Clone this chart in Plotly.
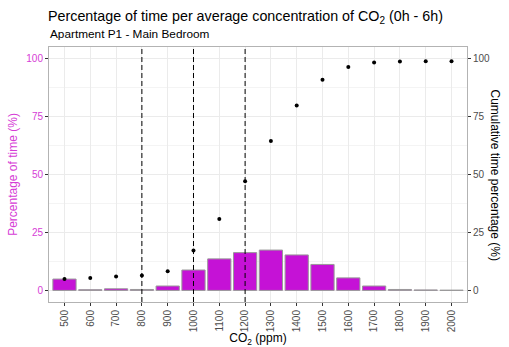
import plotly.graph_objects as go

categories = ["500", "600", "700", "800", "900", "1000", "1100", "1200", "1300",
              "1400", "1500", "1600", "1700", "1800", "1900", "2000"]
pct_time = [4.9, 0.3, 0.7, 0.4, 1.9, 8.8, 13.6, 16.3, 17.4, 15.3, 11.2, 5.4, 1.9, 0.4, 0.2, 0.1]
cum_pct = [4.9, 5.3, 6.0, 6.4, 8.3, 17.2, 30.8, 47.1, 64.5, 79.8, 90.9, 96.4, 98.3, 98.7, 98.9, 98.9]
thresholds = ["800", "1000", "1200"]

magenta = "#C512D6"
label_mag = "#D63DD6"
grey = "#4D4D4D"
font = "Liberation Sans, Arial, sans-serif"

fig = go.Figure()
fig.add_trace(go.Bar(x=categories, y=pct_time, marker=dict(color=magenta, line=dict(color="#999999", width=1)),
                     width=0.9, yaxis="y"))
fig.add_trace(go.Scatter(x=categories, y=cum_pct, mode="markers",
                         marker=dict(color="black", size=4), yaxis="y2"))

for t in thresholds:
    xi = categories.index(t)
    fig.add_shape(type="line", xref="x", yref="paper", x0=xi, x1=xi, y0=0, y1=1,
                  line=dict(color="black", width=1, dash="5px,3px"), layer="above")

fig.update_layout(
    width=509, height=347,
    margin=dict(l=49, r=42, t=47, b=45),
    paper_bgcolor="white", plot_bgcolor="white",
    showlegend=False, bargap=0.1,
    font=dict(family=font, color=grey, size=10),
    title=dict(text="Percentage of time per average concentration of CO<sub>2</sub> (0h - 6h)",
               x=48/509, xanchor="left", y=1-16/347, yanchor="middle",
               font=dict(size=14.3, color="black", family=font)),
    annotations=[
        dict(text="Apartment P1 - Main Bedroom", xref="paper", yref="paper",
             x=0, xanchor="left", y=1, yanchor="bottom",
             showarrow=False, yshift=4, xshift=-1,
             font=dict(size=11.8, color="black", family=font)),
        dict(text="Cumulative time percentage (%)", xref="paper", yref="paper",
             x=1, xanchor="center", y=0.5, yanchor="middle", xshift=28,
             textangle=90, showarrow=False,
             font=dict(size=12, color="black", family=font)),
    ],
    xaxis=dict(type="category", range=[-0.6, 15.6], showgrid=True, gridcolor="#EBEBEB",
               tickangle=-90, ticks="outside", ticklen=3, tickcolor="#333333",
               tickfont=dict(size=10, color=grey), showline=True, linecolor="#B3B3B3", mirror=True,
               title=dict(text="CO<sub>2</sub> (ppm)", font=dict(size=12, color="black"), standoff=10),
               zeroline=False, automargin=False),
    yaxis=dict(range=[-5, 105], tickvals=[0, 25, 50, 75, 100], showgrid=True, gridcolor="#EBEBEB",
               ticks="outside", ticklen=3, tickcolor="#333333",
               tickfont=dict(size=10, color=label_mag),
               minor=dict(tickvals=[12.5, 37.5, 62.5, 87.5], showgrid=True, gridcolor="#F4F4F4"),
               showline=True, linecolor="#B3B3B3", mirror=True, zeroline=False, automargin=False,
               title=dict(text="Percentage of time (%)", font=dict(size=12, color=label_mag), standoff=6)),
    yaxis2=dict(range=[-5, 105], tickvals=[0, 25, 50, 75, 100], overlaying="y", side="right",
                showgrid=False, ticks="outside", ticklen=3, tickcolor="#333333",
                tickfont=dict(size=10, color=grey), zeroline=False, automargin=False),
)

fig.write_html("out.html")
